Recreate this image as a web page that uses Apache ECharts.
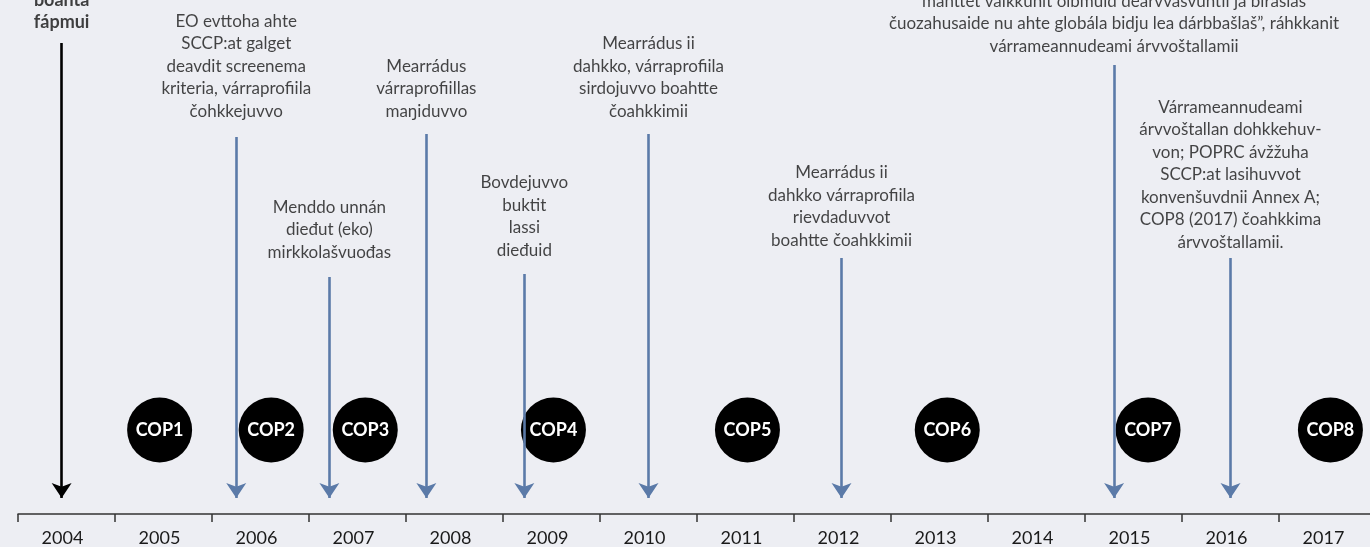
<!DOCTYPE html>
<html>
<head>
<meta charset="utf-8">
<script src="https://cdn.jsdelivr.net/npm/echarts@6/dist/echarts.min.js"></script>
<style>
  html, body { margin: 0; padding: 0; background: #edeef3; overflow: hidden; }
  #chart { width: 1380px; height: 547px; }
</style>
</head>
<body>
<div id="chart"></div>
<script>
// years on the timeline
const years = ['2004', '2005', '2006', '2007', '2008', '2009', '2010', '2011', '2012', '2013', '2014', '2015', '2016', '2017'];

// events: position in years, arrow top and text bottom (height above axis)
const eventYears = [2004.45, 2006.25, 2007.21, 2008.21, 2009.22, 2010.5, 2012.49, 2015.3, 2016.5];
const eventTops = [471, 377, 237, 380, 240, 380, 256, 449, 256];
const eventTextBottoms = [480, 391, 250, 391, 252, 391, 262, 456, 260];
const eventTexts = [
  'boahta\nfápmui',
  'EO evttoha ahte\nSCCP:at galget\ndeavdit screenema\nkriteria, várraprofiila\nčohkkejuvvo',
  'Menddo unnán\ndieđut (eko)\nmirkkolašvuođas',
  'Mearrádus\nvárraprofiillas\nmaŋiduvvo',
  'Bovdejuvvo\nbuktit\nlassi\ndieđuid',
  'Mearrádus ii\ndahkko, várraprofiila\nsirdojuvvo boahtte\nčoahkkimii',
  'Mearrádus ii\ndahkko várraprofiila\nrievdaduvvot\nboahtte čoahkkimii',
  'manttet vaikkuhit olbmuid dearvvasvuhtii ja birasias\nčuozahusaide nu ahte globála bidju lea dárbbašlaš”, ráhkkanit\nvárrameannudeami árvvoštallamii',
  'Várrameannudeami\nárvvoštallan dohkkehuv-\nvon; POPRC ávžžuha\nSCCP:at lasihuvvot\nkonvenšuvdnii Annex A;\nCOP8 (2017) čoahkkima\nárvvoštallamii.'
];
const arrowTip = 16;

// COP meetings
const copNames = ['COP1', 'COP2', 'COP3', 'COP4', 'COP5', 'COP6', 'COP7', 'COP8'];
const copYears = [2005.46, 2006.61, 2007.58, 2009.52, 2011.52, 2013.58, 2015.65, 2017.53];
const copLevel = 84;

const FONT = 'Lato, "Liberation Sans", sans-serif';
const BLUE = '#5b7aa8';

const chart = echarts.init(document.getElementById('chart'));

const arrowData = eventYears.map((x, i) => ({
  coords: [[x, eventTops[i]], [x, arrowTip]],
  lineStyle: { color: i === 0 ? '#000' : BLUE }
}));

const textData = eventYears.map((x, i) => ({
  value: [x, eventTextBottoms[i]],
  name: eventTexts[i],
  label: i === 0 ? { fontWeight: 'bold', color: '#111', fontSize: 18 } : {}
}));

chart.setOption({
  backgroundColor: '#edeef3',
  animation: false,
  grid: { left: 18, right: 4, top: 0, bottom: 33 },
  xAxis: [
    {
      type: 'category',
      data: years,
      boundaryGap: true,
      axisLine: { show: true, lineStyle: { color: '#333', width: 1.5 } },
      axisTick: { show: true, length: 8, lineStyle: { color: '#333', width: 1.5 } },
      axisLabel: { color: '#1a1a1a', fontSize: 18, fontFamily: FONT, margin: 15, padding: [0, 8, 0, 0] }
    },
    { type: 'value', min: 2004, max: 2018, show: false }
  ],
  yAxis: { type: 'value', min: 0, max: 514, show: false },
  series: [
    {
      type: 'scatter',
      xAxisIndex: 1,
      symbol: 'circle',
      symbolSize: 65,
      itemStyle: { color: '#000', opacity: 1 },
      data: copYears.map((x, i) => ({ value: [x, copLevel], name: copNames[i] })),
      label: {
        show: true,
        position: 'inside',
        formatter: '{b}',
        color: '#fff',
        fontSize: 18,
        fontWeight: 'bold',
        fontFamily: FONT
      },
      z: 2
    },
    {
      type: 'lines',
      coordinateSystem: 'cartesian2d',
      xAxisIndex: 1,
      symbol: ['none', 'arrow'],
      symbolSize: 15,
      lineStyle: { width: 2.6, opacity: 1, curveness: 0 },
      data: arrowData,
      z: 3
    },
    {
      type: 'scatter',
      xAxisIndex: 1,
      symbolSize: 1,
      itemStyle: { color: 'transparent' },
      data: textData,
      label: {
        show: true,
        position: 'top',
        distance: 0,
        formatter: '{b}',
        align: 'center',
        color: '#161616',
        fontSize: 17,
        lineHeight: 22.5,
        fontFamily: FONT
      },
      z: 4
    }
  ]
});
</script>
</body>
</html>
